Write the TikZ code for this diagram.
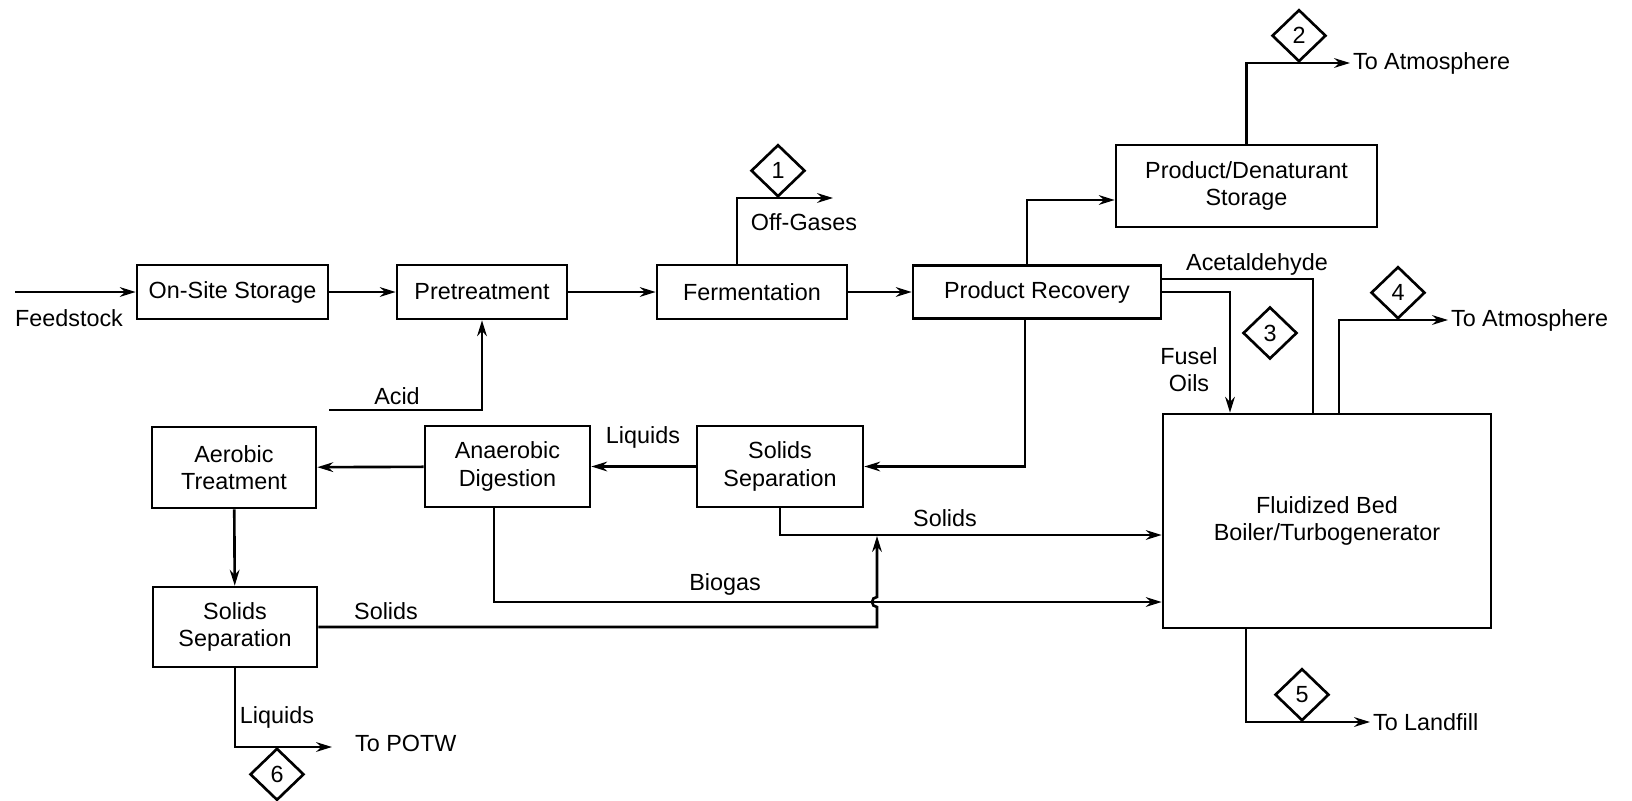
\documentclass[tikz,border=0pt]{standalone}
\usepackage{fontspec}
\setmainfont{Liberation Sans}
\usetikzlibrary{arrows.meta, shapes.geometric}

\begin{document}
\begin{tikzpicture}[line width = 1.5pt, > = {Stealth[length = 9pt, width = 5.5pt]},
  every node/.style = {font = \fontsize{13.3}{15.5}\selectfont},
  box/.style = {draw, align = center, inner sep = 0pt},
  tag/.style = {draw, diamond, inner sep = 0pt, minimum width = 1.08cm, minimum height = 1.04cm}]
\useasboundingbox (0,0) rectangle (32.64,-16.02);
\node (oss) at (4.65,-5.84) [box, minimum width = 3.82cm, minimum height = 1.08cm] {On-Site Storage};
\node (pre) at (9.64,-5.84) [box, minimum width = 3.4cm, minimum height = 1.08cm] {Pretreatment};
\node (fer) at (15.04,-5.84) [box, minimum width = 3.8cm, minimum height = 1.08cm] {Fermentation};
\node (pr) at (20.74,-5.84) [box, minimum width = 4.96cm, minimum height = 1.06cm] {Product Recovery};
\node (pds) at (24.93,-3.72) [box, minimum width = 5.22cm, minimum height = 1.64cm] {Product/Denaturant\\Storage};
\node (boil) at (26.54,-10.42) [box, minimum width = 6.56cm, minimum height = 4.28cm] {Fluidized Bed\\Boiler/Turbogenerator};
\node (ss1) at (15.6,-9.33) [box, minimum width = 3.32cm, minimum height = 1.62cm] {Solids\\Separation};
\node (ad) at (10.15,-9.33) [box, minimum width = 3.3cm, minimum height = 1.62cm] {Anaerobic\\Digestion};
\node (aer) at (4.68,-9.35) [box, minimum width = 3.28cm, minimum height = 1.62cm] {Aerobic\\Treatment};
\node (ss2) at (4.7,-12.54) [box, minimum width = 3.28cm, minimum height = 1.6cm] {Solids\\Separation};

\coordinate (feed) at (0.3,-5.84);
\coordinate (acid) at (6.58,-8.2);
\coordinate (off) at (16.66,-3.96);
\coordinate (atm2) at (27.0,-1.26);
\coordinate (atm4) at (28.96,-6.4);
\coordinate (fill) at (27.4,-14.44);
\coordinate (potw) at (6.64,-14.94);
\coordinate (hop) at (17.54,-12.04);
\coordinate (merge) at (17.54,-10.72);

\draw [->] (feed) -- (oss);
\draw [->] (oss) -- (pre);
\draw [->] (pre) -- (fer);
\draw [->] (fer) -- (pr);
\draw [->] (acid) -| (pre);
\draw [->] ([xshift = -0.3cm]fer.north) |- (off);
\draw [->] ([xshift = -0.2cm]pr.north) |- ([yshift = -0.28cm]pds.west);
\draw [->] (pds.north) |- (atm2);
\draw ([yshift = 0.26cm]pr.east) -| ([xshift = -0.28cm]boil.north);
\draw [->] (pr.east) -| ([xshift = -1.94cm]boil.north);
\draw [->] ([xshift = 0.24cm]boil.north) |- (atm4);
\draw [->] ([xshift = -1.62cm]boil.south) |- (fill);
\draw [->] ([xshift = -0.24cm]pr.south) |- (ss1.east);
\draw [->] (ss1) -- (ad);
\draw [->] (ad) -- (aer);
\draw [->] (aer) -- (ss2);
\draw [->] (ss2.south) |- (potw);
\draw [->] (ss1.south) |- ([yshift = -0.28cm]boil.west);
\draw [->] ([xshift = -0.27cm]ad.south) |- ([yshift = -1.62cm]boil.west);
\draw [->] (ss2.east) -| ([yshift = -0.1cm]hop) arc [start angle = 270, end angle = 90, radius = 0.1] -- (merge);

\node (d1) at (15.56,-3.96) [tag, anchor = south] {1};
\node (d2) at (25.98,-1.26) [tag, anchor = south] {2};
\node (d3) at (25.4,-6.66) [tag] {3};
\node (d4) at (27.96,-6.4) [tag, anchor = south] {4};
\node (d5) at (26.04,-14.44) [tag, anchor = south] {5};
\node (d6) at (5.54,-14.94) [tag, anchor = north] {6};

\node (lfeed) at (1.38,-6.36) {Feedstock};
\node (lacid) at (7.94,-7.92) {Acid};
\node (loff) at (16.08,-4.44) {Off-Gases};
\node (latm2) at (atm2) [anchor = west, inner sep = 1pt] {To Atmosphere};
\node (lacet) at (25.14,-5.28) {Acetaldehyde};
\node (lfusel) at (23.78,-7.4) [align = center] {Fusel\\Oils};
\node (latm4) at (atm4) [anchor = west, inner sep = 1pt] {To Atmosphere};
\node (lfill) at (fill) [anchor = west, inner sep = 1pt] {To Landfill};
\node (lliq1) at (12.86,-8.74) {Liquids};
\node (lsol1) at (18.9,-10.36) {Solids};
\node (lbio) at (14.5,-11.68) {Biogas};
\node (lsol2) at (7.72,-12.22) {Solids};
\node (lliq2) at (5.54,-14.34) {Liquids};
\node (lpotw) at (6.96,-14.86) [anchor = west] {To POTW};
\end{tikzpicture}
\end{document}
